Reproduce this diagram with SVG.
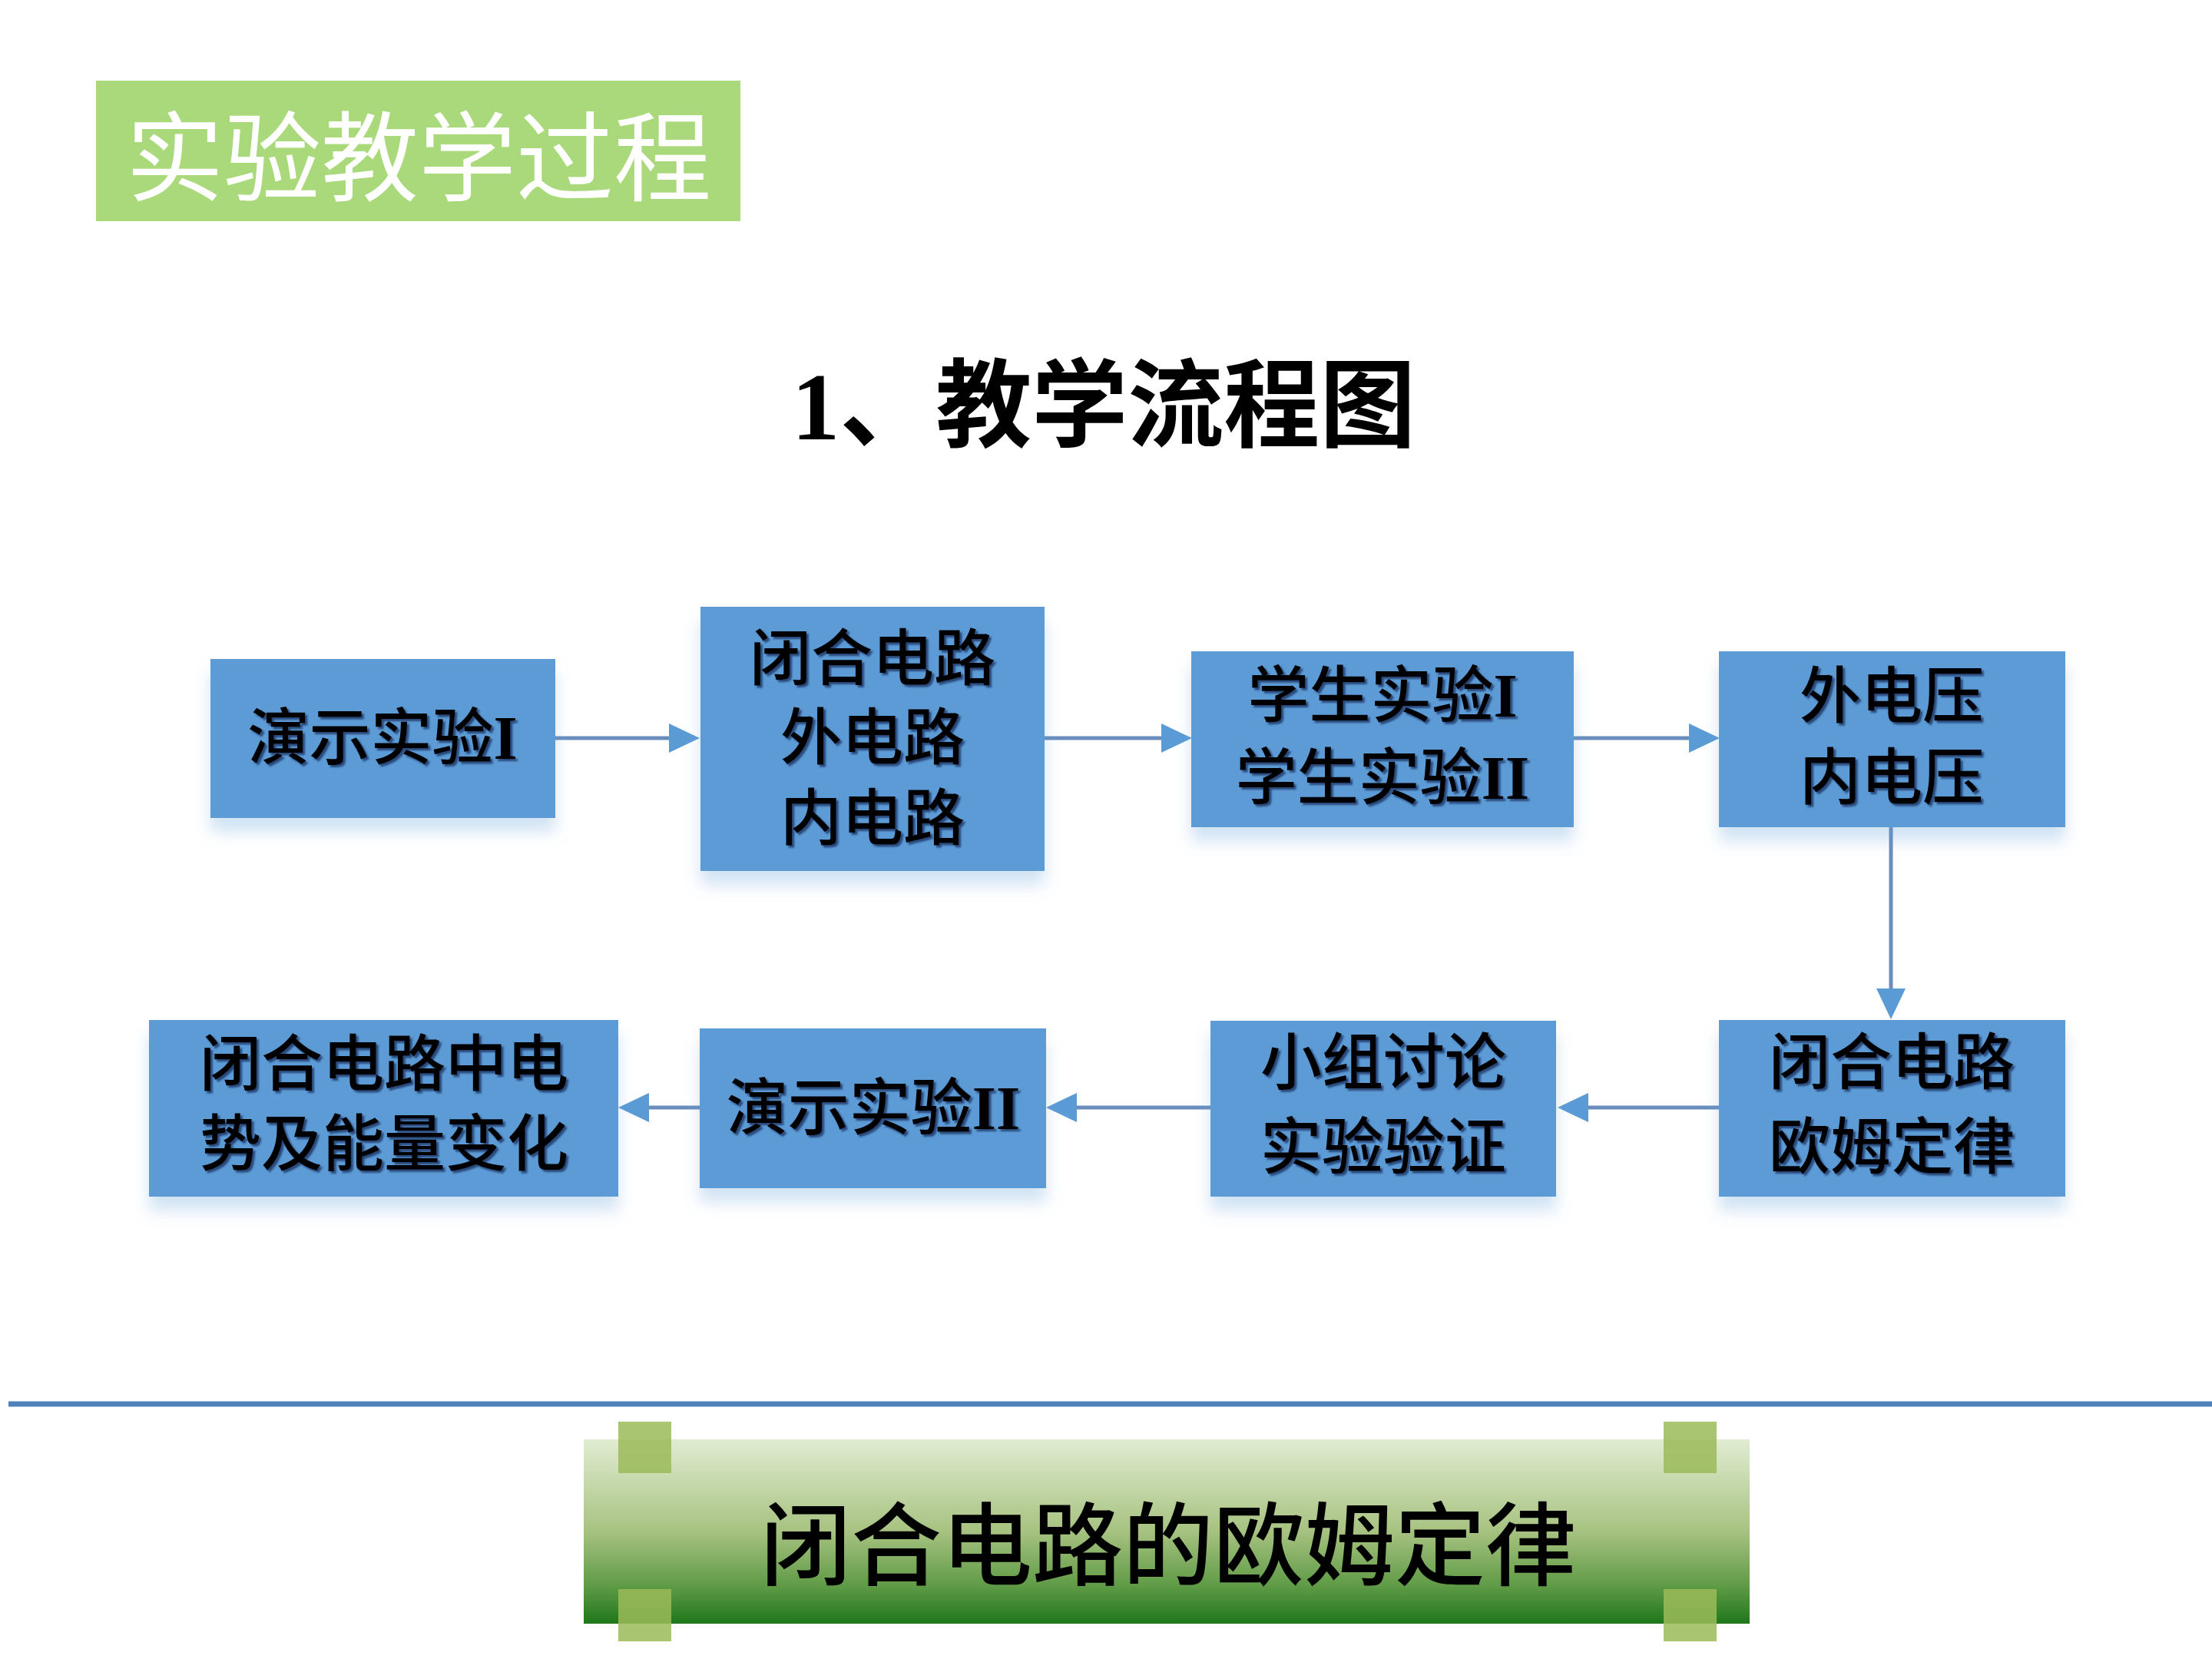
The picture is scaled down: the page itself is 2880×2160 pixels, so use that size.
<svg xmlns="http://www.w3.org/2000/svg" width="2880" height="2160" viewBox="0 0 2880 2160">
  <defs>
    <style>
      .box { fill: #5B9BD5; filter: url(#boxShadow); }
      .ntext { font-family: "Liberation Serif", "Noto Sans CJK SC", serif; font-size: 80px; font-weight: 500; fill: #000; text-anchor: middle; filter: url(#txtShadow); }
      .lat { font-weight: bold; }
      .conn { stroke: #6A8DBD; stroke-width: 5; fill: none; marker-end: url(#ah); }
      .sq { fill: #9BBB59; opacity: 0.85; }
    </style>
    <filter id="boxShadow" x="-10%" y="-10%" width="120%" height="140%">
      <feGaussianBlur in="SourceAlpha" stdDeviation="10"/>
      <feOffset dx="0" dy="18" result="b"/>
      <feFlood flood-color="#5B9BD5" flood-opacity="0.28"/>
      <feComposite in2="b" operator="in"/>
      <feMerge><feMergeNode/><feMergeNode in="SourceGraphic"/></feMerge>
    </filter>
    <filter id="txtShadow" x="-5%" y="-10%" width="110%" height="130%">
      <feDropShadow dx="3" dy="3" stdDeviation="0.8" flood-color="#1a3a6a" flood-opacity="0.85"/>
    </filter>
    <linearGradient id="bannerGrad" x1="0" y1="0" x2="0" y2="1">
      <stop offset="0" stop-color="#E1ECD2"/>
      <stop offset="0.5" stop-color="#A7C280"/>
      <stop offset="0.8" stop-color="#5E9A45"/>
      <stop offset="1" stop-color="#1F771A"/>
    </linearGradient>
    <marker id="ah" markerUnits="userSpaceOnUse" markerWidth="42" markerHeight="40" refX="5" refY="19" orient="auto">
      <path d="M0,0 L40,19 L0,38 Z" fill="#5B9BD5"/>
    </marker>
  </defs>

  <rect width="2880" height="2160" fill="#FFFFFF"/>

  <!-- header -->
  <g id="header">
    <rect x="125" y="105" width="839" height="183" fill="#A9D97A"/>
    <text x="545" y="252" font-family="Noto Sans CJK SC, sans-serif" font-size="127" fill="#FFFFFF" text-anchor="middle">实验教学过程</text>
  </g>

  <!-- title -->
  <g id="title">
    <text x="1437" y="572" font-family="Liberation Serif, Noto Sans CJK SC, serif" font-size="125" font-weight="bold" fill="#000" text-anchor="middle">1、教学流程图</text>
  </g>

  <!-- connectors -->
  <g id="connectors">
    <line class="conn" x1="723" y1="961" x2="876" y2="961"/>
    <line class="conn" x1="1359" y1="961" x2="1517" y2="961"/>
    <line class="conn" x1="2048" y1="961" x2="2204" y2="961"/>
    <line class="conn" x1="2462" y1="1077" x2="2462" y2="1292"/>
    <line class="conn" x1="2238" y1="1442" x2="2063" y2="1442"/>
    <line class="conn" x1="1576" y1="1442" x2="1397" y2="1442"/>
    <line class="conn" x1="911" y1="1442" x2="840" y2="1442"/>
  </g>

  <!-- nodes -->
  <g id="n1">
    <rect class="box" x="274" y="858" width="449" height="207"/>
    <text class="ntext" x="498" y="988">演示实验<tspan class="lat">I</tspan></text>
  </g>
  <g id="n2">
    <rect class="box" x="912" y="790" width="448" height="344"/>
    <text class="ntext" x="1136" y="885">闭合电路</text>
    <text class="ntext" x="1136" y="988">外电路</text>
    <text class="ntext" x="1136" y="1093">内电路</text>
  </g>
  <g id="n3">
    <rect class="box" x="1551" y="848" width="498" height="229"/>
    <text class="ntext" x="1800" y="933">学生实验<tspan class="lat">I</tspan></text>
    <text class="ntext" x="1800" y="1040">学生实验<tspan class="lat">II</tspan></text>
  </g>
  <g id="n4">
    <rect class="box" x="2238" y="848" width="451" height="229"/>
    <text class="ntext" x="2463" y="934">外电压</text>
    <text class="ntext" x="2463" y="1040">内电压</text>
  </g>
  <g id="n5">
    <rect class="box" x="2238" y="1328" width="451" height="230"/>
    <text class="ntext" x="2463" y="1411">闭合电路</text>
    <text class="ntext" x="2463" y="1521">欧姆定律</text>
  </g>
  <g id="n6">
    <rect class="box" x="1576" y="1329" width="450" height="229"/>
    <text class="ntext" x="1801" y="1411">小组讨论</text>
    <text class="ntext" x="1801" y="1521">实验验证</text>
  </g>
  <g id="n7">
    <rect class="box" x="911" y="1339" width="451" height="208"/>
    <text class="ntext" x="1137" y="1470">演示实验<tspan class="lat">II</tspan></text>
  </g>
  <g id="n8">
    <rect class="box" x="194" y="1328" width="611" height="230"/>
    <text class="ntext" x="500" y="1413">闭合电路中电</text>
    <text class="ntext" x="500" y="1517">势及能量变化</text>
  </g>

  <!-- separator -->
  <line x1="11" y1="1828" x2="2880" y2="1828" stroke="#4F81BD" stroke-width="7"/>

  <!-- banner -->
  <g id="banner">
    <rect x="760" y="1874" width="1518" height="240" fill="url(#bannerGrad)"/>
    <rect class="sq" x="805" y="1851" width="69" height="67"/>
    <rect class="sq" x="2166" y="1851" width="69" height="67"/>
    <rect class="sq" x="805" y="2069" width="69" height="68"/>
    <rect class="sq" x="2166" y="2069" width="69" height="68"/>
    <text x="1521" y="2055" font-family="Noto Sans CJK SC, sans-serif" font-size="118" font-weight="500" fill="#000" text-anchor="middle">闭合电路的欧姆定律</text>
  </g>
</svg>
